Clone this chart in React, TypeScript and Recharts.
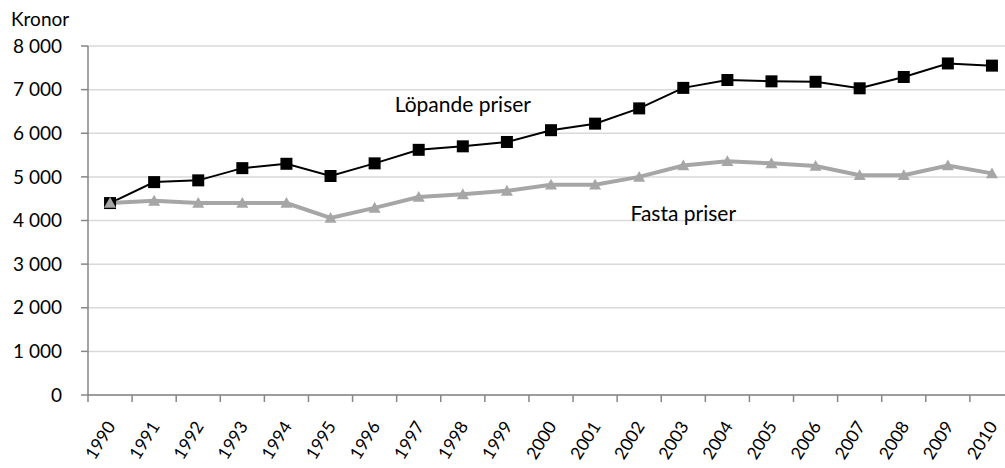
import React from 'react';
import {
  LineChart, Line, XAxis, YAxis, CartesianGrid, ReferenceDot,
} from 'recharts';

const years = [1990, 1991, 1992, 1993, 1994, 1995, 1996, 1997, 1998, 1999, 2000,
  2001, 2002, 2003, 2004, 2005, 2006, 2007, 2008, 2009, 2010];
const lopandePriser = [4400, 4880, 4920, 5200, 5300, 5020, 5310, 5620, 5700, 5800, 6070,
  6220, 6570, 7040, 7220, 7190, 7180, 7030, 7290, 7600, 7550];
const fastaPriser = [4400, 4450, 4400, 4400, 4400, 4060, 4290, 4540, 4600, 4680, 4820,
  4820, 5000, 5260, 5360, 5310, 5250, 5040, 5040, 5260, 5080];
const yTicks = [0, 1000, 2000, 3000, 4000, 5000, 6000, 7000, 8000];

const data = years.map((year, i) => ({
  year, lopande: lopandePriser[i], fasta: fastaPriser[i],
}));

// tick marks sit between the categories, like Excel
const xBoundaries = [...years.map((y) => y - 0.5), years[years.length - 1] + 0.5];

const FONT = 'Lato, "Noto Sans", sans-serif';
const CHART_W = 1014;
const CHART_H = 468;
const Y_W = 88;
const HALF_BAND = (CHART_W - Y_W) / years.length / 2;
const AXIS = '#868686';
const GRAY = '#a6a6a6';

const fmt = (v: number) => String(v).replace(/\B(?=(\d{3})+(?!\d))/g, ' ');

function YearTick({ x, y, payload }: any) {
  const year = payload.value + 0.5;
  if (year > years[years.length - 1]) return null;
  const cx = x + HALF_BAND + 1;
  return (
    <text
      x={cx} y={y} dy="0.35em" textAnchor="end" fontSize={17.5} fill="#000"
      fontFamily={FONT} transform={`rotate(-58, ${cx}, ${y})`}
    >
      {year}
    </text>
  );
}

function SquareDot({ cx, cy, index }: any) {
  if (cx == null || cy == null) return null;
  return <rect key={`s${index}`} x={cx - 6} y={cy - 6} width={12} height={12} fill="#000" />;
}

function TriangleDot({ cx, cy, index }: any) {
  if (cx == null || cy == null) return null;
  const s = 6;
  return (
    <polygon
      key={`t${index}`}
      points={`${cx},${cy - s} ${cx + s},${cy + s * 0.8} ${cx - s},${cy + s * 0.8}`}
      fill={GRAY}
    />
  );
}

export default function App() {
  return (
    <div style={{ position: 'absolute', left: 0, top: 0, width: 1005, height: 468, overflow: 'hidden', background: '#fff' }}>
      <LineChart
        width={CHART_W}
        height={CHART_H}
        data={data}
        margin={{ top: 46, right: 0, left: 0, bottom: 0 }}
        style={{ fontFamily: FONT }}
      >
        <CartesianGrid vertical={false} stroke="#d9d9d9" strokeWidth={1.5} />
        <XAxis
          dataKey="year"
          type="number"
          domain={[xBoundaries[0], xBoundaries[xBoundaries.length - 1]]}
          ticks={xBoundaries}
          interval={0}
          height={73}
          stroke={AXIS}
          strokeWidth={1.5}
          tickSize={7}
          tickMargin={21}
          tick={<YearTick />}
        />
        <YAxis
          domain={[0, 8000]}
          ticks={yTicks}
          width={Y_W}
          stroke={AXIS}
          strokeWidth={1.5}
          tickSize={7}
          tickMargin={19}
          tickFormatter={fmt}
          tick={{ fill: '#000', fontSize: 19, fontFamily: FONT }}
          label={{
            content: ({ viewBox }: any) => (
              <text x={viewBox.x + 11} y={viewBox.y - 20} fontSize={19} fill="#000" fontFamily={FONT}>
                Kronor
              </text>
            ),
          }}
        />
        <Line
          dataKey="lopande"
          stroke="#000"
          strokeWidth={2}
          dot={SquareDot}
          activeDot={false}
          isAnimationActive={false}
        />
        <Line
          dataKey="fasta"
          stroke={GRAY}
          strokeWidth={4}
          dot={TriangleDot}
          activeDot={false}
          isAnimationActive={false}
        />
        <ReferenceDot
          x={1998} y={6660} r={0} fill="none" stroke="none"
          label={{ value: 'Löpande priser', position: 'center', fill: '#000', fontSize: 21, fontFamily: FONT }}
        />
        <ReferenceDot
          x={2003} y={4150} r={0} fill="none" stroke="none"
          label={{ value: 'Fasta priser', position: 'center', fill: '#000', fontSize: 21, fontFamily: FONT }}
        />
      </LineChart>
    </div>
  );
}
